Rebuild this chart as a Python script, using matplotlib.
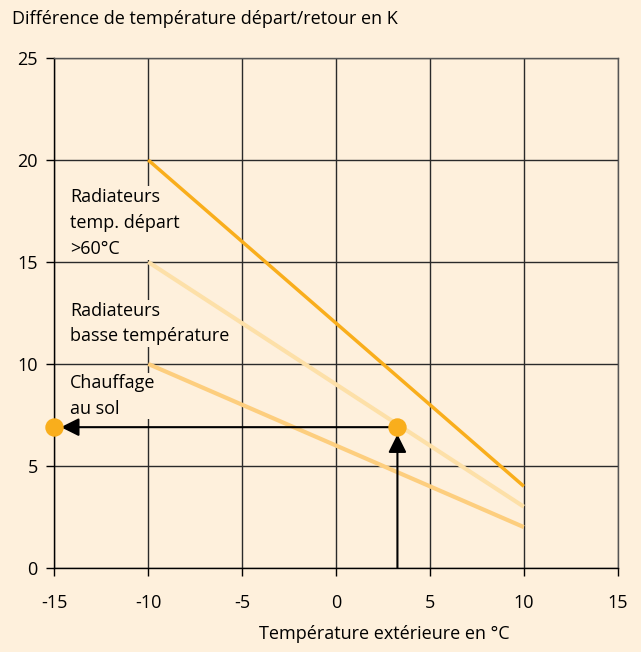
import matplotlib
matplotlib.use("Agg")
import matplotlib.pyplot as plt

# data
temp_ext = [-10, 10]
rad_haute = [20, 4]
rad_basse = [15, 3]
sol = [10, 2]
point_x = 3.27
point_y = 6.9

xticks = [-15, -10, -5, 0, 5, 10, 15]
yticks = [0, 5, 10, 15, 20, 25]

bg = "#FEF0DC"
plt.rcParams['font.family'] = ['Open Sans', 'DejaVu Sans']
fs = 13

fig = plt.figure(figsize=(6.41, 6.52), dpi=100, facecolor=bg)
ax = fig.add_axes([0.0847, 0.129, 0.879, 0.782])
ax.set_facecolor(bg)

ax.set_xlim(-15, 15)
ax.set_ylim(0, 25)
ax.set_xticks(xticks)
ax.set_yticks(yticks)
ax.set_xticklabels([str(t) for t in xticks])
ax.grid(True, color="#2a2a2a", linewidth=1)
ax.set_axisbelow(True)
for s in ax.spines.values():
    s.set_color("#555555")
    s.set_linewidth(1)
ax.spines['left'].set_color("black")
ax.spines['bottom'].set_color("black")
ax.tick_params(direction="out", length=6, width=1, labelsize=fs)
ax.tick_params(axis="x", pad=13)
ax.tick_params(axis="y", pad=6)

ax.plot(temp_ext, sol, color="#FDCE7E", lw=3, solid_capstyle="butt", zorder=5)
ax.plot(temp_ext, rad_basse, color="#FDE0A8", lw=3, solid_capstyle="butt", zorder=5)
ax.plot(temp_ext, rad_haute, color="#F9AE1C", lw=2.5, solid_capstyle="butt", zorder=5)

box = dict(facecolor=bg, edgecolor="none", pad=1)
ax.text(-14.15, 18.65, "Radiateurs\ntemp. départ\n>60°C", fontsize=fs, va="top",
        linespacing=1.6, bbox=box, zorder=4)
ax.text(-14.15, 13.05, "Radiateurs\nbasse température", fontsize=fs, va="top",
        linespacing=1.55, bbox=box, zorder=4)
ax.text(-14.15, 9.5, "Chauffage\nau sol", fontsize=fs, va="top",
        linespacing=1.55, bbox=box, zorder=4)

arrow = dict(arrowstyle="-|>,head_length=1.1,head_width=0.55", color="black",
             lw=1.5, shrinkA=0, shrinkB=0)
ax.annotate("", xy=(point_x, point_y - 0.35), xytext=(point_x, 0),
            arrowprops=arrow, zorder=6)
ax.annotate("", xy=(-15 + 0.35, point_y), xytext=(point_x, point_y),
            arrowprops=arrow, zorder=6)
ax.scatter([point_x, -15], [point_y, point_y], s=150, color="#F9AE1C",
           zorder=7, clip_on=False)

fig.text(0.018, 0.985, "Différence de température départ/retour en K",
         fontsize=fs, va="top", ha="left")
fig.text(0.6, 0.027, "Température extérieure en °C", fontsize=fs,
         va="center", ha="center")

fig.savefig("out.png", dpi=100, facecolor=bg)
